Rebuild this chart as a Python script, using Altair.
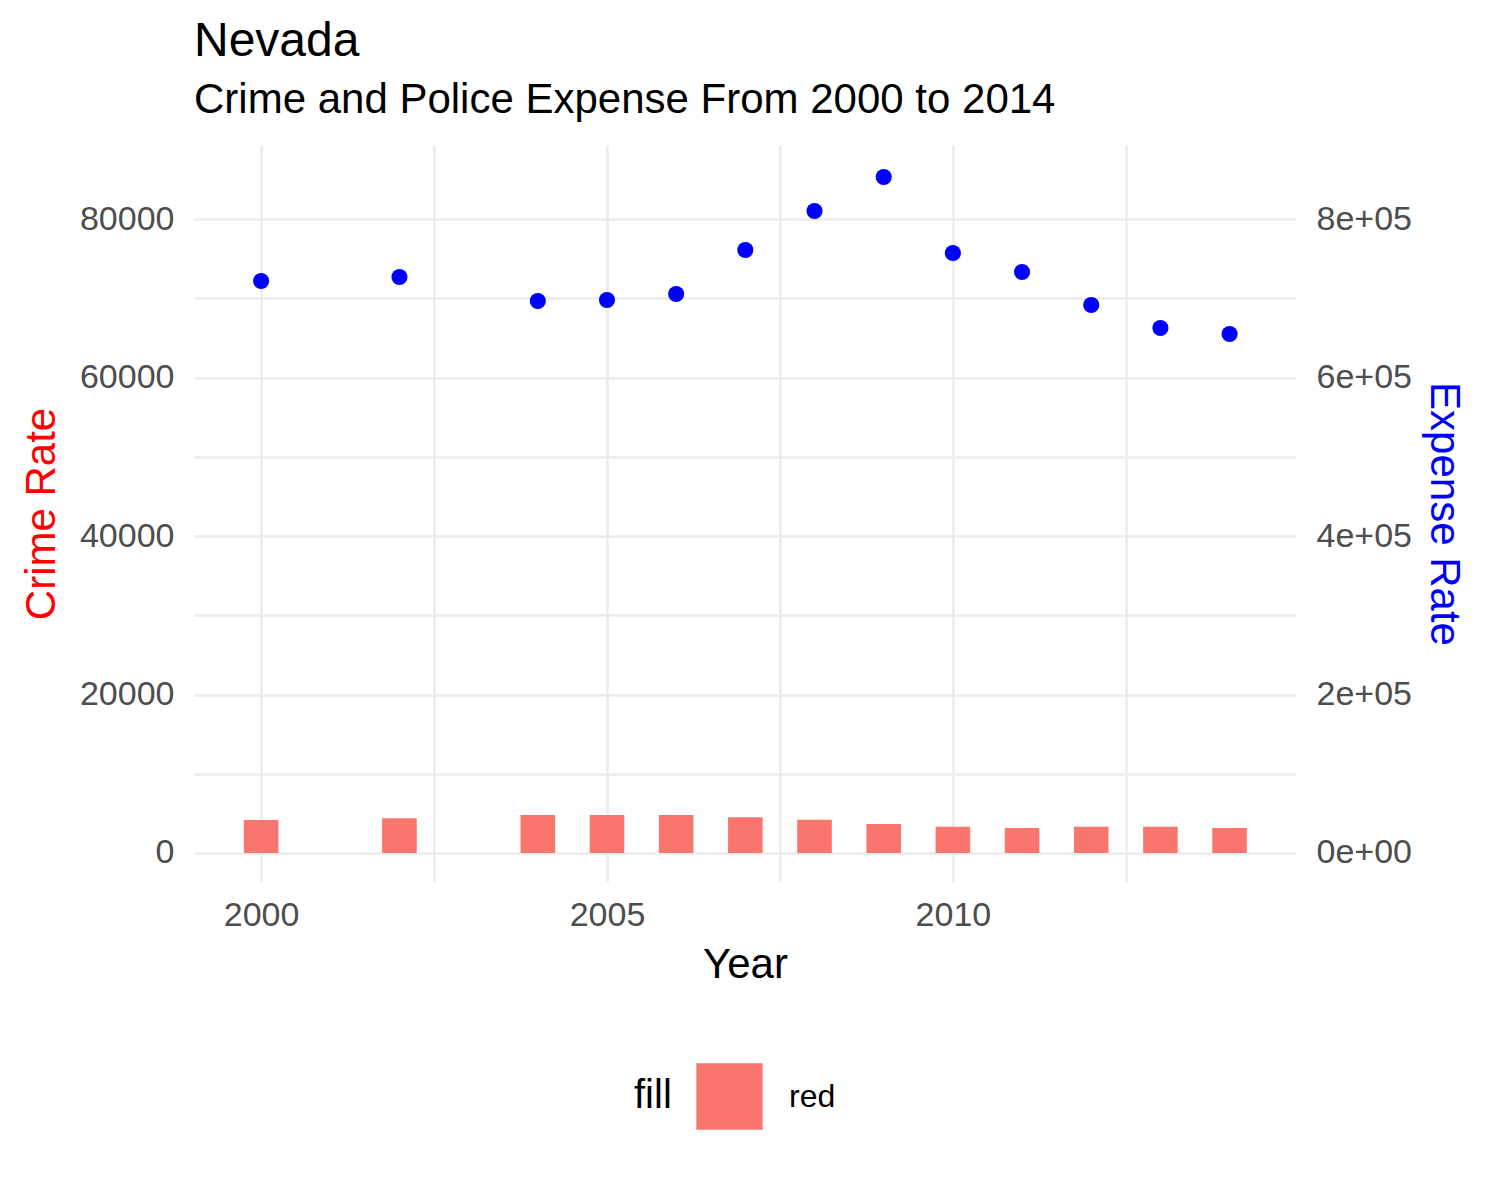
import altair as alt
import pandas as pd

years = [2000, 2002, 2004, 2005, 2006, 2007, 2008, 2009, 2010, 2011, 2012, 2013, 2014]
crime = [4150, 4400, 4800, 4800, 4800, 4500, 4200, 3650, 3300, 3150, 3300, 3300, 3150]
expense = [721800, 726800, 696500, 697800, 705400, 760900, 810100, 853000,
           757100, 733100, 691500, 662500, 654900]

df = pd.DataFrame({"Year": years, "Crime": crime, "Expense": expense})
df["x0"] = df["Year"] - 0.25
df["x1"] = df["Year"] + 0.25
df["fill"] = "red"

FONT = "Liberation Sans"
xdom = [1999.03, 2014.96]
xs = alt.Scale(domain=xdom, nice=False, zero=False)
xaxis = alt.Axis(values=[2000, 2002.5, 2005, 2007.5, 2010, 2012.5],
                 labelExpr="datum.value % 5 == 0 ? datum.value : ''",
                 format="d", title="Year", domain=False, ticks=False,
                 gridColor="#EBEBEB", gridWidth=2.5, labelPadding=16,
                 titlePadding=12)

bars = alt.Chart(df).mark_bar().encode(
    x=alt.X("x0:Q", scale=xs, axis=xaxis),
    x2="x1:Q",
    y=alt.Y("Crime:Q", scale=alt.Scale(domain=[-3660, 89340], nice=False),
            axis=alt.Axis(values=list(range(0, 90000, 10000)),
                          labelExpr="datum.value % 20000 == 0 ? datum.value : ''",
                          title="Crime Rate", titleColor="red",
                          domain=False, ticks=False, gridColor="#EBEBEB",
                          gridWidth=2.5, labelPadding=20, titlePadding=16)),
    y2=alt.datum(0),
    color=alt.Color("fill:N", scale=alt.Scale(range=["#F8766D"]), title="fill",
                    legend=alt.Legend(orient="none", legendX=440, legendY=918,
                                      direction="horizontal",
                                      titleOrient="left", symbolType="square",
                                      symbolSize=4400, symbolStrokeWidth=0,
                                      labelFontSize=32, titleFontSize=40,
                                      labelOffset=26, titlePadding=24)),
)

points = alt.Chart(df).mark_circle(size=260, color="blue", opacity=1).encode(
    x=alt.X("Year:Q", scale=xs),
    y=alt.Y("Expense:Q", scale=alt.Scale(domain=[-36600, 893400], nice=False),
            axis=alt.Axis(orient="right", values=[0, 200000, 400000, 600000, 800000],
                          labelExpr="datum.value == 0 ? '0e+00' : (datum.value/100000) + 'e+05'",
                          title="Expense Rate", titleColor="blue", titleAngle=90,
                          domain=False, ticks=False, grid=False,
                          labelPadding=20, titlePadding=10)),
)

chart = alt.layer(bars, points).resolve_scale(y="independent").properties(
    width=1102, height=737,
    title=alt.TitleParams("Nevada", subtitle="Crime and Police Expense From 2000 to 2014",
                          anchor="start", frame="group", fontSize=48, subtitleFontSize=42,
                          fontWeight="normal", subtitleColor="black",
                          font=FONT, subtitleFont=FONT, subtitlePadding=14, offset=24),
    padding={"left": 12, "top": 10, "right": 10, "bottom": 20},
).configure_axis(
    labelFont=FONT, titleFont=FONT, labelFontSize=34, titleFontSize=42,
    labelColor="#4D4D4D", titleFontWeight="normal",
).configure_legend(labelFont=FONT, titleFont=FONT, titleFontWeight="normal",
                   labelColor="black").configure_view(strokeWidth=0)

chart.save("out.html", embed_options={"renderer": "svg", "actions": False})
